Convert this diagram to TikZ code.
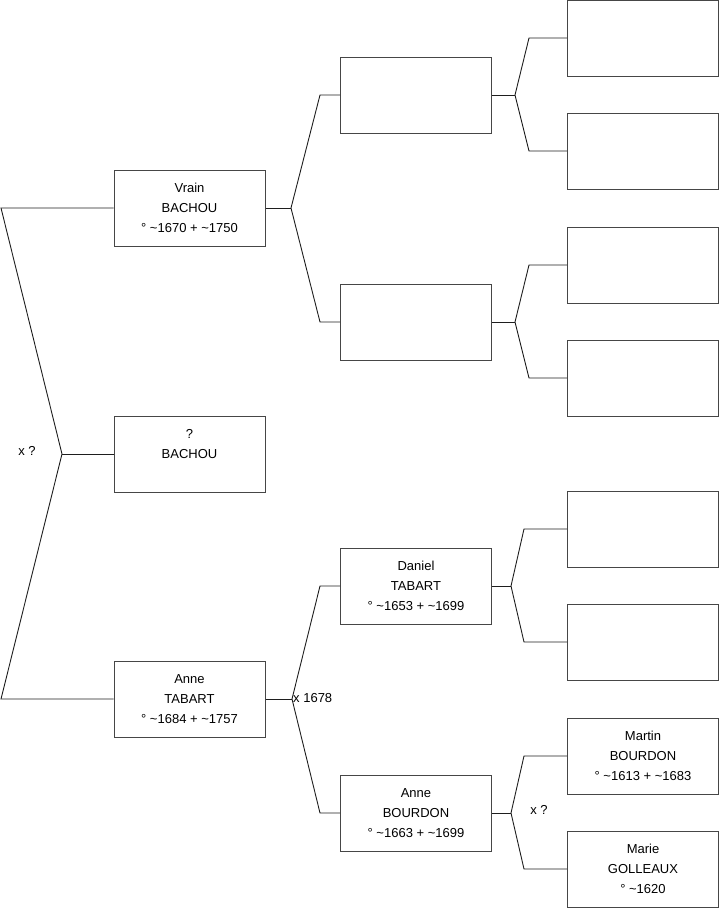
\documentclass[tikz,border=0pt]{standalone}
\usepackage{fontspec}
\setmainfont{Liberation Sans}
\begin{document}
\begin{tikzpicture}[x=1pt,y=-1pt,
  person/.style={draw={rgb,255:red,70;green,70;blue,70}, line width=1pt, fill=white,
    minimum width=151pt, minimum height=76pt, inner sep=0pt, align=center,
    font=\fontsize{13}{20}\selectfont},
  link/.style={draw={rgb,255:red,30;green,30;blue,30}, line width=0.9pt},
  lbl/.style={font=\fontsize{13}{15}\selectfont, inner sep=0pt}]
\useasboundingbox (0,0) rectangle (719,908);
% column 1
\node[person] (vrain) at (189.5,208) {Vrain\\BACHOU\\° \textasciitilde1670 + \textasciitilde1750};
\node[person] (qb) at (189.5,454) {?\\BACHOU\\\mbox{}};
\node[person] (annet) at (189.5,699) {Anne\\TABART\\° \textasciitilde1684 + \textasciitilde1757};
% column 2
\node[person] (c2a) at (416,95) {};
\node[person] (c2b) at (416,322) {};
\node[person] (daniel) at (416,586) {Daniel\\TABART\\° \textasciitilde1653 + \textasciitilde1699};
\node[person] (anneb) at (416,813) {Anne\\BOURDON\\° \textasciitilde1663 + \textasciitilde1699};
% column 3
\node[person] (c3a) at (643,38) {};
\node[person] (c3b) at (643,151) {};
\node[person] (c3c) at (643,265) {};
\node[person] (c3d) at (643,378) {};
\node[person] (c3e) at (643,529) {};
\node[person] (c3f) at (643,642) {};
\node[person] (martin) at (643,756) {Martin\\BOURDON\\° \textasciitilde1613 + \textasciitilde1683};
\node[person] (marie) at (643,869) {Marie\\GOLLEAUX\\° \textasciitilde1620};
% junction coordinates
\coordinate (lt) at (1,208);
\coordinate (lm) at (62,454);
\coordinate (lb) at (1,699);
\coordinate (vj) at (291,208);
\coordinate (va) at (320,95);
\coordinate (vb) at (320,322);
\coordinate (aj) at (292,699);
\coordinate (aa) at (320,586);
\coordinate (ab) at (320,813);
\coordinate (p1) at (515,95);
\coordinate (p1a) at (529,38);
\coordinate (p1b) at (529,151);
\coordinate (p2) at (515,322);
\coordinate (p2a) at (529,265);
\coordinate (p2b) at (529,378);
\coordinate (p3) at (511,586);
\coordinate (p3a) at (524,529);
\coordinate (p3b) at (524,642);
\coordinate (p4) at (511,813);
\coordinate (p4a) at (524,756);
\coordinate (p4b) at (524,869);
% connectors
\draw[link] (vrain.west) -- (lt) -- (lm) -- (lb) -- (annet.west);
\draw[link] (lm) -- (qb.west);
\draw[link] (vrain.east) -- (vj);
\draw[link] (c2a.west) -- (va) -- (vj) -- (vb) -- (c2b.west);
\draw[link] (annet.east) -- (aj);
\draw[link] (daniel.west) -- (aa) -- (aj) -- (ab) -- (anneb.west);
\draw[link] (c2a.east) -- (p1);
\draw[link] (c3a.west) -- (p1a) -- (p1) -- (p1b) -- (c3b.west);
\draw[link] (c2b.east) -- (p2);
\draw[link] (c3c.west) -- (p2a) -- (p2) -- (p2b) -- (c3d.west);
\draw[link] (daniel.east) -- (p3);
\draw[link] (c3e.west) -- (p3a) -- (p3) -- (p3b) -- (c3f.west);
\draw[link] (anneb.east) -- (p4);
\draw[link] (martin.west) -- (p4a) -- (p4) -- (p4b) -- (marie.west);
% labels
\node[lbl] (m1) at (27,451) {x ?};
\node[lbl, anchor=west] (m2) at (293,698) {x 1678};
\node[lbl] (m3) at (539,810) {x ?};
\end{tikzpicture}
\end{document}
